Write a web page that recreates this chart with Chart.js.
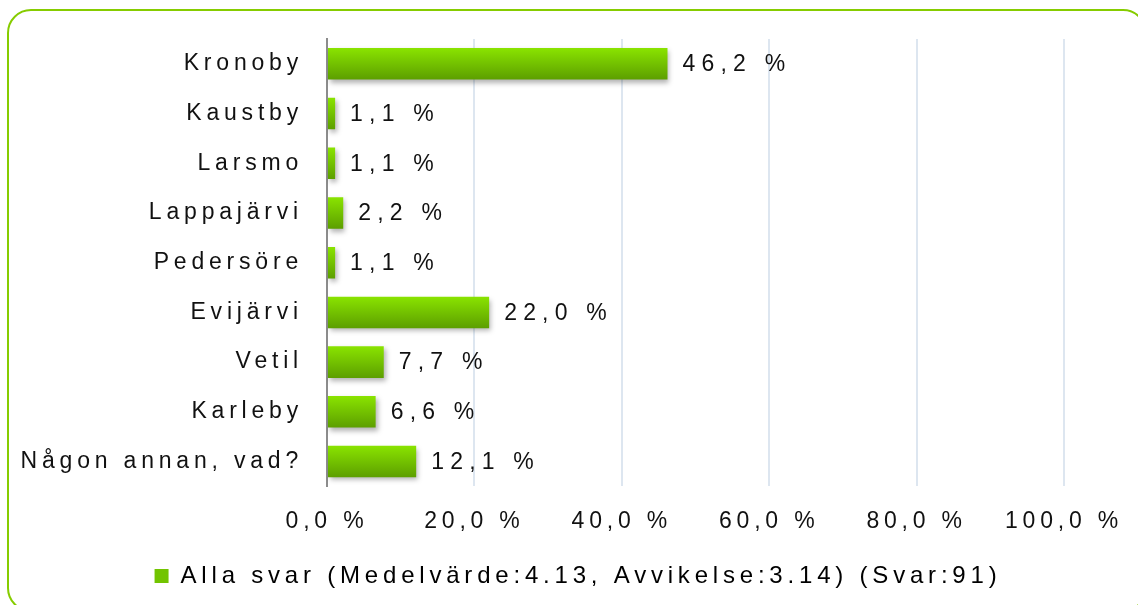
<!DOCTYPE html>
<html>
<head>
<meta charset="utf-8">
<script src="https://cdn.jsdelivr.net/npm/chart.js@4"></script>
<style>
  html, body { margin: 0; padding: 0; background: #fff; }
  #wrap { position: relative; width: 1138px; height: 605px; }
</style>
</head>
<body>
<div id="wrap"><canvas id="chart" width="1138" height="605"></canvas></div>
<script>
// chart data
const categories = ['Kronoby', 'Kaustby', 'Larsmo', 'Lappajärvi', 'Pedersöre', 'Evijärvi', 'Vetil', 'Karleby', 'Någon annan, vad?'];
const values = [46.2, 1.1, 1.1, 2.2, 1.1, 22.0, 7.7, 6.6, 12.1];
const tickValues = [0, 20, 40, 60, 80, 100];
const seriesLabel = 'Alla svar (Medelvärde:4.13, Avvikelse:3.14) (Svar:91)';

const FONT = 'Liberation Sans, Arial, sans-serif';
const FONT_SIZE = 23;
const SPACING = '4.8px';

const fmt = v => v.toFixed(1).replace('.', ',') + ' %';

// letter spacing on the canvas context (lost on resize, so set it often)
const spacingPlugin = {
    id: 'spacing',
    beforeUpdate(chart) { chart.ctx.letterSpacing = SPACING; },
    beforeDraw(chart) { chart.ctx.letterSpacing = SPACING; },
    afterLayout(chart) {
        // legend is centred on the whole frame, not on the padded area
        const lg = chart.legend;
        const dx = 578 - (lg.left + lg.right) / 2;
        lg.left += dx;
        lg.right += dx;
    }
};

// rounded green frame behind everything
const framePlugin = {
    id: 'frame',
    beforeDraw(chart) {
        const ctx = chart.ctx;
        ctx.save();
        ctx.strokeStyle = '#86cc00';
        ctx.lineWidth = 2;
        ctx.beginPath();
        ctx.roundRect(8, 10, 1138, 601, 23);
        ctx.stroke();
        ctx.restore();
    }
};

// soft shadow under the bars
const shadowPlugin = {
    id: 'barShadow',
    beforeDatasetsDraw(chart) {
        const ctx = chart.ctx;
        ctx.save();
        ctx.shadowColor = 'rgba(0,0,0,0.3)';
        ctx.shadowBlur = 5;
        ctx.shadowOffsetX = 2;
        ctx.shadowOffsetY = 3;
    },
    afterDatasetsDraw(chart) {
        chart.ctx.restore();
    }
};

// value labels right of each bar
const valueLabels = {
    id: 'valueLabels',
    afterDatasetsDraw(chart) {
        const ctx = chart.ctx;
        const meta = chart.getDatasetMeta(0);
        ctx.save();
        ctx.font = FONT_SIZE + 'px ' + FONT;
        ctx.letterSpacing = '6.2px';
        ctx.fillStyle = '#111';
        ctx.textAlign = 'left';
        ctx.textBaseline = 'middle';
        meta.data.forEach((bar, i) => {
            ctx.fillText(fmt(values[i]), bar.x + 15, bar.y + 1);
        });
        ctx.restore();
    }
};

function barGradient(context) {
    const chart = context.chart;
    const y = chart.scales.y;
    if (!y || context.dataIndex === undefined) return '#72c400';
    const cy = y.getPixelForTick(context.dataIndex);
    const g = chart.ctx.createLinearGradient(0, cy - 16, 0, cy + 16);
    g.addColorStop(0, '#8ae400');
    g.addColorStop(1, '#5c9e00');
    return g;
}

new Chart(document.getElementById('chart'), {
    type: 'bar',
    data: {
        labels: categories,
        datasets: [{
            label: seriesLabel,
            data: values,
            backgroundColor: barGradient,
            borderWidth: 0,
            categoryPercentage: 1,
            barPercentage: 0.634
        }]
    },
    options: {
        indexAxis: 'y',
        responsive: false,
        animation: false,
        layout: { padding: { top: 39, right: 74, left: 0, bottom: 7 } },
        scales: {
            x: {
                min: 0,
                max: 100,
                afterBuildTicks: scale => { scale.ticks = tickValues.map(v => ({ value: v })); },
                afterFit: scale => { scale.paddingLeft = 0; scale.paddingRight = 0; },
                grid: { color: '#dde6f0', lineWidth: 2, drawTicks: false },
                border: { display: false },
                ticks: {
                    padding: 21,
                    color: '#111',
                    font: { family: FONT, size: FONT_SIZE },
                    maxRotation: 0,
                    callback: v => fmt(v)
                }
            },
            y: {
                afterFit: scale => { scale.width = 327; },
                grid: { display: false, drawTicks: false },
                border: { display: true, color: '#8c8c8c', width: 2 },
                ticks: {
                    padding: 24,
                    color: '#111',
                    font: { family: FONT, size: FONT_SIZE }
                }
            }
        },
        plugins: {
            legend: {
                position: 'bottom',
                labels: {
                    boxWidth: 14,
                    boxHeight: 14,
                    padding: 8,
                    color: '#111',
                    font: { family: FONT, size: 24 },
                    generateLabels: () => [{
                        text: seriesLabel,
                        fillStyle: '#72c400',
                        strokeStyle: '#72c400',
                        lineWidth: 0,
                        datasetIndex: 0
                    }]
                }
            },
            tooltip: { enabled: false }
        }
    },
    plugins: [spacingPlugin, framePlugin, shadowPlugin, valueLabels]
});
</script>
</body>
</html>
